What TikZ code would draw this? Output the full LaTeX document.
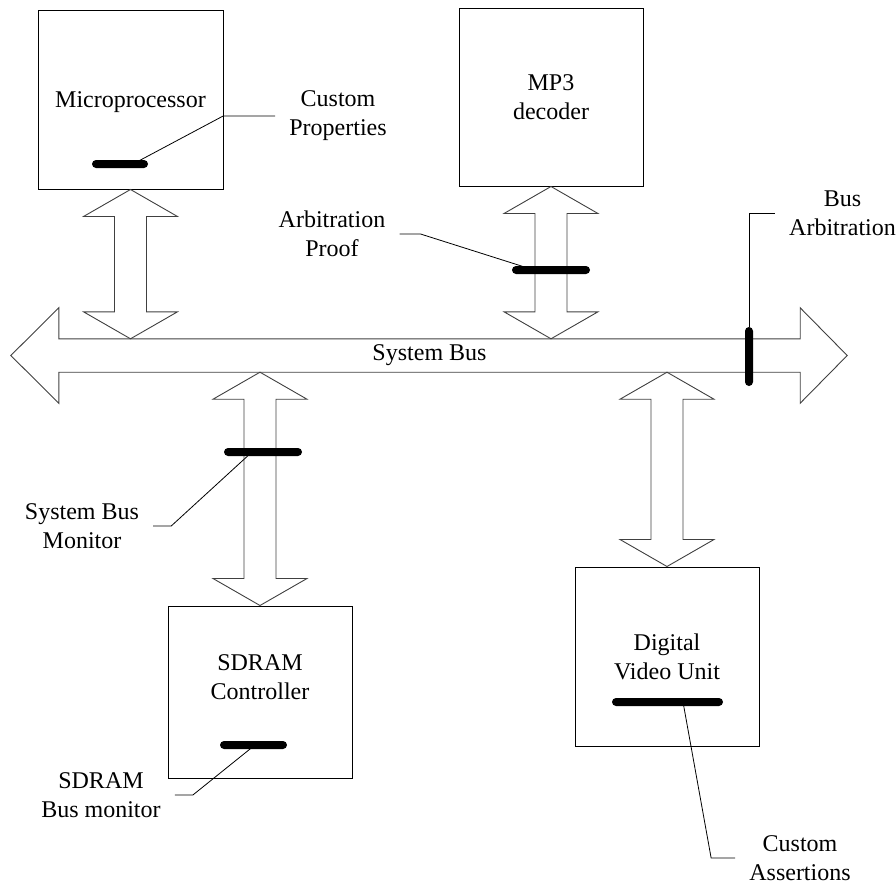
\documentclass[tikz,border=0pt]{standalone}
\usepackage{fontspec}
\setmainfont{Liberation Serif}
\usetikzlibrary{calc,positioning}

\tikzset{
  unitbox/.style={draw, line width=1pt, minimum width=184pt, minimum height=178pt, align=center},
  notetext/.style={align=center, inner xsep=14pt, inner ysep=0pt},
  probe/.style={fill=black, rounded corners=4pt, inner sep=0pt, minimum height=8pt},
  leader/.style={draw, line width=0.8pt},
  fatarrow/.style={draw=black!75, line width=0.9pt, line join=miter},
}

% double headed block arrow, #1 = top end, #2 = bottom end
\newcommand{\fatlink}[2]{%
  \draw[fatarrow] (#1) -- ++(47pt,-27pt) -- ++(-31pt,0pt)
    -- ($(#2)+(16pt,27pt)$) -- ++(31pt,0pt) -- (#2)
    -- ++(-47pt,27pt) -- ++(31pt,0pt)
    -- ($(#1)+(-16pt,-27pt)$) -- ++(-31pt,0pt) -- cycle;}

\begin{document}
\begin{tikzpicture}[x=1pt, y=-1pt, font=\fontsize{24}{29}\selectfont]
    \useasboundingbox (0,0) rectangle (896,886);

    % Units
    \node[unitbox, minimum width=185pt, minimum height=179pt] (micro) at (130.5,99.5) {};
    \node (microtxt) at (130.5,102) {Microprocessor};
    \node[unitbox] (mp3) at (551,97) {MP3\\decoder};
    \node[unitbox, minimum height=172pt] (sdram) at (260,692) {};
    \node[align=center] (sdramtxt) at (260,677) {SDRAM\\Controller};
    \node[unitbox, minimum height=179pt] (dvu) at (667,656.5) {Digital\\Video Unit};

    % System bus
    \node[minimum width=741pt, minimum height=33pt, inner sep=0pt] (bus) at (429.5,355.5) {System Bus};
    \draw[fatarrow] (bus.north west) -- (bus.north east) -- ++(0pt,31pt)
        -- ($(bus.east)+(47pt,0pt)$) -- ($(bus.south east)+(0pt,-31pt)$)
        -- (bus.south east) -- (bus.south west) -- ++(0pt,-31pt)
        -- ($(bus.west)+(-48pt,0pt)$) -- ($(bus.north west)+(0pt,31pt)$) -- cycle;

    \coordinate (tapm) at (micro.south |- bus.north);
    \coordinate (tapp) at (mp3.south |- bus.north);
    \coordinate (taps) at (sdram.north |- bus.south);
    \coordinate (tapd) at (dvu.north |- bus.south);

    \fatlink{micro.south}{tapm}
    \fatlink{mp3.south}{tapp}
    \fatlink{taps}{sdram.north}
    \fatlink{tapd}{dvu.north}

    % Checkers
    \node[probe, minimum width=56pt] (mpbar) at (120,164) {};
    \node[probe, minimum width=78pt] (proofbar) at (551,270) {};
    \node[probe, minimum width=8pt, minimum height=59pt] (arbbar) at (749,356.5) {};
    \node[probe, minimum width=78pt] (sbbar) at (263,452) {};
    \node[probe, minimum width=67pt] (sdbar) at (253.5,745) {};
    \node[probe, minimum width=111pt] (dvbar) at (667.5,702) {};

    % Labels
    \node[notetext] (cprop) at (338,116) {Custom\\Properties};
    \node[notetext] (aproof) at (332,234) {Arbitration\\Proof};
    \node[notetext] (busarb) at (842.5,213) {Bus\\Arbitration};
    \node[notetext] (sbmon) at (82,526) {System Bus\\Monitor};
    \node[notetext] (sdmon) at (101,795) {SDRAM\\Bus monitor};
    \node[notetext] (cass) at (800,858) {Custom\\Assertions};

    \draw[leader] (cprop.west) -- ++(-52pt,0pt) -- ([xshift=13pt]mpbar.center);
    \draw[leader] (aproof.east) -- ++(21pt,0pt) -- ([xshift=-17pt]proofbar.center);
    \draw[leader] (busarb.west) -- (busarb.west -| arbbar.north) -- (arbbar.north);
    \draw[leader] (sbmon.east) -- ++(18pt,0pt) -- ([xshift=-11pt]sbbar.center);
    \draw[leader] (sdmon.east) -- ++(18pt,0pt) -- ([xshift=1.5pt]sdbar.center);
    \draw[leader] (cass.west) -- ++(-24pt,0pt) -- ([xshift=15.5pt]dvbar.center);
\end{tikzpicture}
\end{document}
